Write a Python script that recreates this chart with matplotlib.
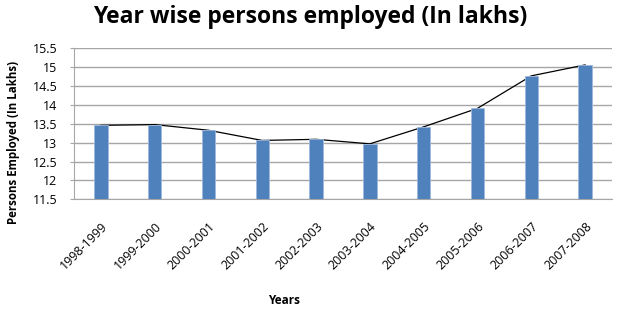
import matplotlib

matplotlib.use("Agg")

import matplotlib.pyplot as plt  # noqa: E402
import numpy as np  # noqa: E402

# ── data ───────────────────────────────────────────────────────────────────────

years = [
    "1998-1999", "1999-2000", "2000-2001", "2001-2002", "2002-2003",
    "2003-2004", "2004-2005", "2005-2006", "2006-2007", "2007-2008",
]
employed = [13.46, 13.48, 13.33, 13.06, 13.09, 12.97, 13.42, 13.91, 14.77, 15.06]
y_ticks = [11.5, 12, 12.5, 13, 13.5, 14, 14.5, 15, 15.5]

# ── style ──────────────────────────────────────────────────────────────────────

plt.rcParams["font.family"] = ["Open Sans", "DejaVu Sans"]
_BAR = "#4F81BD"
_GRID = "#A6A6A6"

fig = plt.figure(figsize=(6.21, 3.11), dpi=100)
ax = fig.add_axes([0.119, 0.359, 0.8665, 0.4857])

x = np.arange(len(years))
ax.plot(x, employed, color="black", linewidth=0.9, zorder=2)
ax.bar(x, employed, width=0.25, bottom=0, color=_BAR, edgecolor="#9DB9DD",
       linewidth=0.6, zorder=3)

ax.set_xlim(-0.5, len(years) - 0.5)
ax.set_ylim(11.5, 15.5)
ax.set_yticks(y_ticks)
ax.set_yticklabels([f"{v:g}" for v in y_ticks], fontsize=9)
ax.set_xticks(x)
ax.set_xticklabels(years, rotation=45, ha="right", rotation_mode="anchor", fontsize=9)
ax.tick_params(axis="x", length=0, pad=15)
ax.tick_params(axis="y", length=3, color=_GRID, direction="out", pad=9)

ax.grid(axis="y", color=_GRID, linewidth=1.0, zorder=0)
ax.set_axisbelow(True)
for side in ["top", "right"]:
    ax.spines[side].set_visible(False)
ax.spines["left"].set_color(_GRID)
ax.spines["bottom"].set_color(_GRID)

ax.set_ylabel("Persons Employed (In Lakhs)", fontsize=8.3, fontweight="bold")
ax.yaxis.set_label_coords(-0.1, 0.38)
ax.set_xlabel("Years", fontsize=8.5, fontweight="bold", va="center")
ax.xaxis.set_label_coords(0.39, -0.667)

fig.text(0.5, 0.945, "Year wise persons employed (In lakhs)", ha="center", va="center",
         fontsize=16.5, fontweight="bold")

fig.savefig("out.png", dpi=100)
plt.close(fig)
